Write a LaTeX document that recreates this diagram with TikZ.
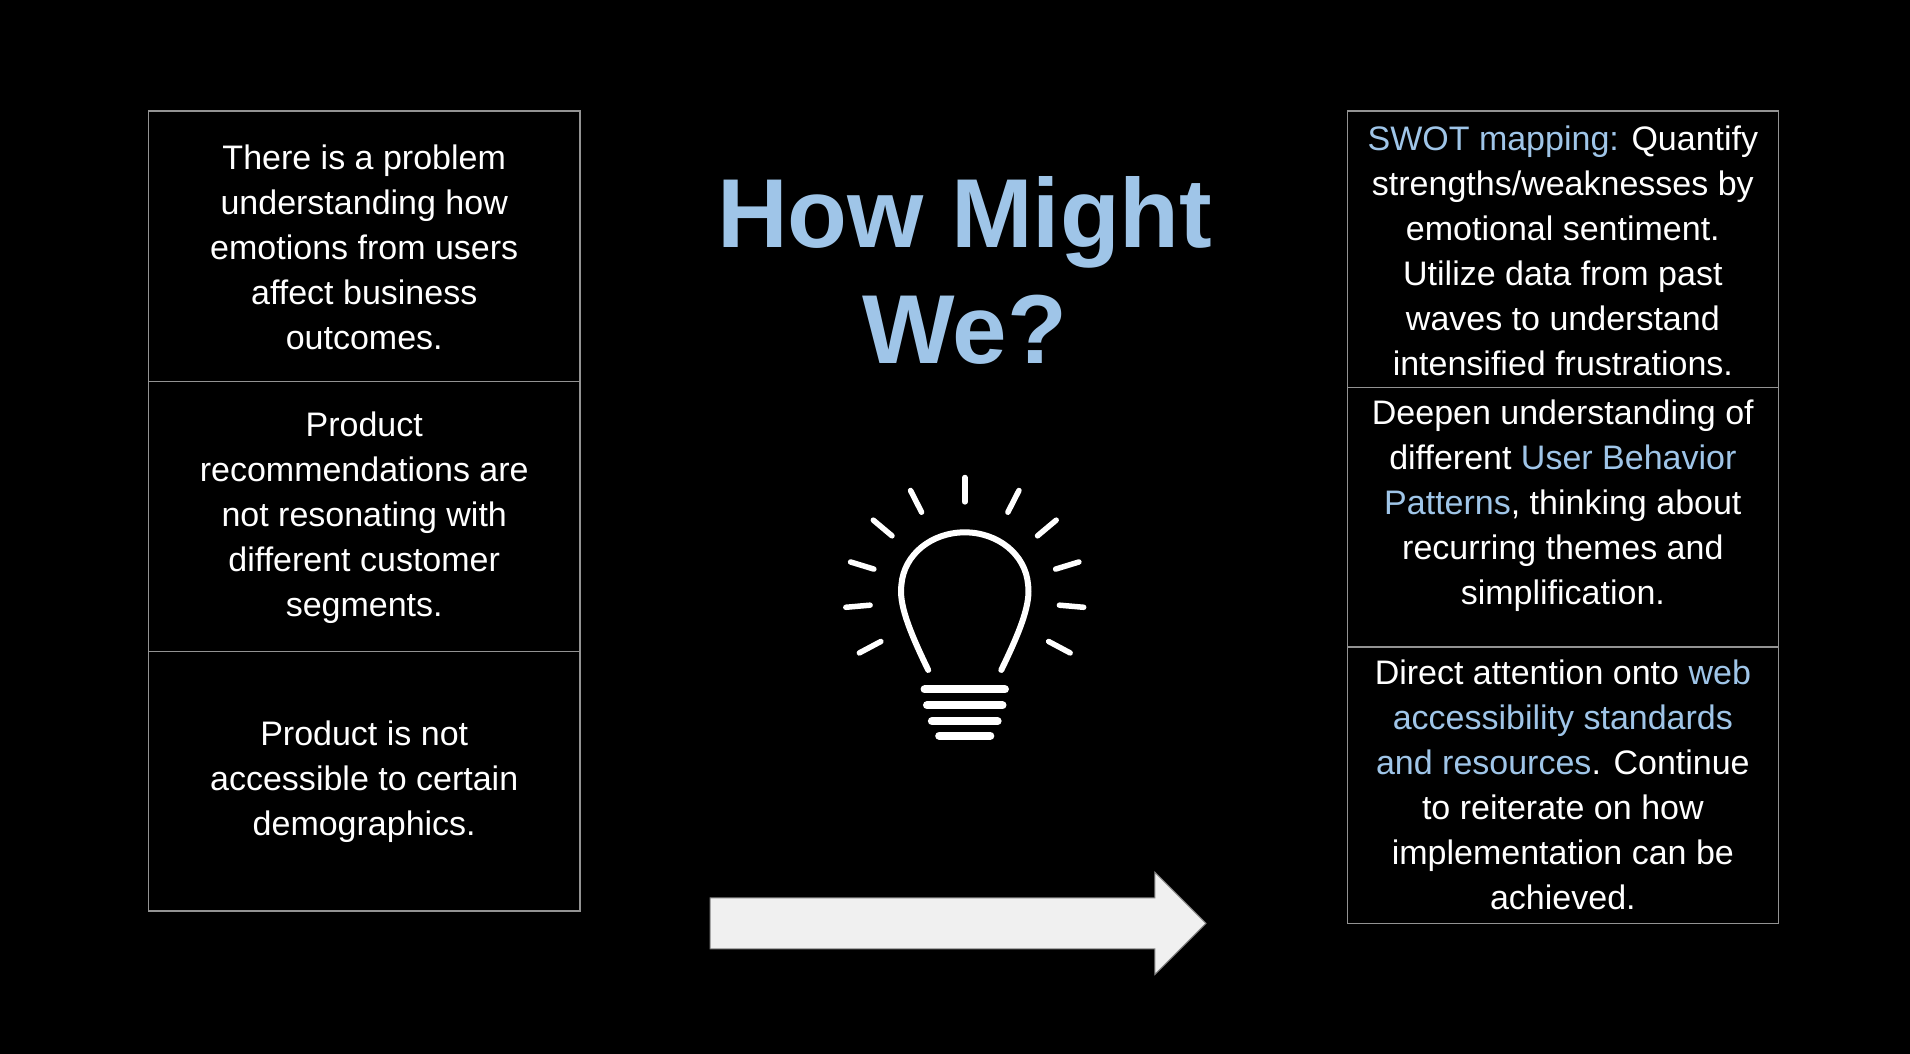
\documentclass[tikz,border=0pt]{standalone}
\usepackage{fontspec}
\usetikzlibrary{calc}
\setmainfont{Liberation Sans}
\definecolor{hl}{HTML}{9FC5E8}
\begin{document}
\begin{tikzpicture}[x=1.218pt,y=-1.218pt,
  cell/.style={draw=gray!85,line width=1.5pt},
  txt/.style={text=white,align=center,font=\fontsize{34}{45}\selectfont},
  ray/.style={white,line width=5.5pt,line cap=round}]
\fill[black] (0,0) rectangle (1568,865);
\useasboundingbox (0,0) rectangle (1568,865);
% left column
\draw[cell] (122,91) rectangle (476,313);
\draw[cell] (122,313) rectangle (476,535);
\draw[cell] (122,535) rectangle (476,748);
\node[txt] (l1) at (299,203) {There is a problem\\understanding how\\emotions from users\\affect business\\outcomes.};
\node[txt] (l2) at (299,425) {Product\\recommendations are\\not resonating with\\different customer\\segments.};
\node[txt] (l3) at (299,642) {Product is not\\accessible to certain\\demographics.};
% right column
\draw[cell] (1106,91) rectangle (1460,318);
\draw[cell] (1106,318) rectangle (1460,531);
\draw[cell] (1106,531) rectangle (1460,758);
\node[txt] (r1) at (1283,206) {\textcolor{hl}{SWOT mapping:} Quantify\\strengths/weaknesses by\\emotional sentiment.\\Utilize data from past\\waves to understand\\intensified frustrations.};
\node[txt] (r2) at (1283,415) {Deepen understanding of\\different \textcolor{hl}{User Behavior}\\\textcolor{hl}{Patterns}, thinking about\\recurring themes and\\simplification.};
\node[txt] (r3) at (1283,644) {Direct attention onto \textcolor{hl}{web}\\\textcolor{hl}{accessibility standards}\\\textcolor{hl}{and resources}. Continue\\to reiterate on how\\implementation can be\\achieved.};
% title
\node[text=hl,align=center,font=\fontsize{98}{116}\selectfont\bfseries] (title) at (792,222) {How Might\\We?};
% bulb
\draw[white,line width=6pt,line cap=round] (762,550) .. controls (745,515) and (738,495) .. (740,480)
  .. controls (742,455) and (765,437) .. (792,437) .. controls (819,437) and (842,455) .. (844,480)
  .. controls (846,495) and (839,515) .. (822,550);
\foreach \yy/\w in {566/33,579/31,592/27,604/21}
  \draw[white,line width=8pt,line cap=round] (792-\w,\yy) -- (792+\w,\yy);
\foreach \a in {90,63,40,17,-5,-28,117,140,163,185,208}
  \draw[ray] ($(792,490)+(\a:-78)$) -- ($(792,490)+(\a:-98)$);
% arrow
\draw[fill=gray!12,draw=gray,line width=1pt] (583,737) -- (948,737) -- (948,716) -- (990,758) -- (948,800) -- (948,779) -- (583,779) -- cycle;
\end{tikzpicture}
\end{document}
